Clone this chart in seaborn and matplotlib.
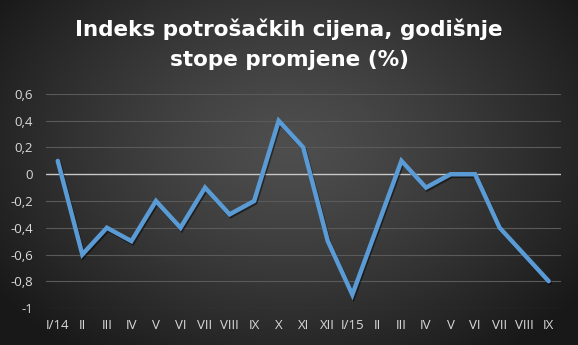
import numpy as np
import pandas as pd
import matplotlib
matplotlib.use("Agg")
import matplotlib.pyplot as plt
import matplotlib.patheffects as pe
import seaborn as sns

months = ["I/14", "II", "III", "IV", "V", "VI", "VII", "VIII", "IX", "X", "XI", "XII",
          "I/15", "II", "III", "IV", "V", "VI", "VII", "VIII", "IX"]
values = [0.1, -0.6, -0.4, -0.5, -0.2, -0.4, -0.1, -0.3, -0.2, 0.4, 0.2, -0.5,
          -0.9, -0.4, 0.1, -0.1, 0.0, 0.0, -0.4, -0.6, -0.8]
yticks = [-1, -0.8, -0.6, -0.4, -0.2, 0, 0.2, 0.4, 0.6]
ytick_labels = ["-1", "-0,8", "-0,6", "-0,4", "-0,2", "0", "0,2", "0,4", "0,6"]
title = "Indeks potrošačkih cijena, godišnje\nstope promjene (%)"

sns.set_theme(style="dark")
plt.rcParams['font.family'] = ['Open Sans', 'DejaVu Sans']

W, H = 578, 345
fig = plt.figure(figsize=(W / 100, H / 100), dpi=100)

# radial gradient background
bg = fig.add_axes([0, 0, 1, 1])
yy, xx = np.mgrid[0:H, 0:W]
cx, cy = W * 0.5, H * 0.42
r = np.sqrt(((xx - cx) / (W * 0.62)) ** 2 + ((yy - cy) / (H * 0.75)) ** 2)
r = np.clip(r, 0, 1)
light = np.array([0x4e, 0x4e, 0x4e]) / 255
dark = np.array([0x18, 0x18, 0x18]) / 255
img = light[None, None, :] * (1 - r[..., None] ** 1.3) + dark[None, None, :] * (r[..., None] ** 1.3)
bg.imshow(img, aspect="auto", extent=[0, 1, 0, 1], origin="upper")
bg.set_axis_off()

ax = fig.add_axes([45.5 / W, 1 - 308 / H, (561 - 45.5) / W, (308 - 94) / H])
ax.patch.set_alpha(0)

df = pd.DataFrame({"pos": np.arange(len(months)), "val": values})
sns.lineplot(data=df, x="pos", y="val", ax=ax, color="#5b9bd5", linewidth=3.2,
             solid_joinstyle="miter", zorder=5,
             path_effects=[pe.SimpleLineShadow(offset=(0.8, -1.2), shadow_color="black", alpha=0.5),
                           pe.Normal()])

ax.set_xlim(-0.5, len(months) - 0.5)
ax.set_ylim(-1, 0.6)
ax.set_yticks(yticks)
ax.set_yticklabels(ytick_labels)
ax.set_xticks(np.arange(len(months)))
ax.set_xticklabels(months)
for y in yticks:
    if y != 0:
        ax.axhline(y, color="#5a5a5a", linewidth=0.8, zorder=1)
ax.axhline(0, color="#c8c8c8", linewidth=1.0, zorder=2)
ax.grid(False)
for s in ax.spines.values():
    s.set_visible(False)
ax.tick_params(axis="both", length=0, colors="#d9d9d9", labelsize=9.5)
ax.tick_params(axis="x", pad=8)
ax.tick_params(axis="y", pad=9)
ax.set_xlabel("")
ax.set_ylabel("")

fig.text(0.5, 1 - 44 / H, title, ha="center", va="center", color="white",
         fontsize=15.5, fontweight="bold", linespacing=1.6,
         family=["DejaVu Sans"])

fig.savefig("out.png", dpi=100)
